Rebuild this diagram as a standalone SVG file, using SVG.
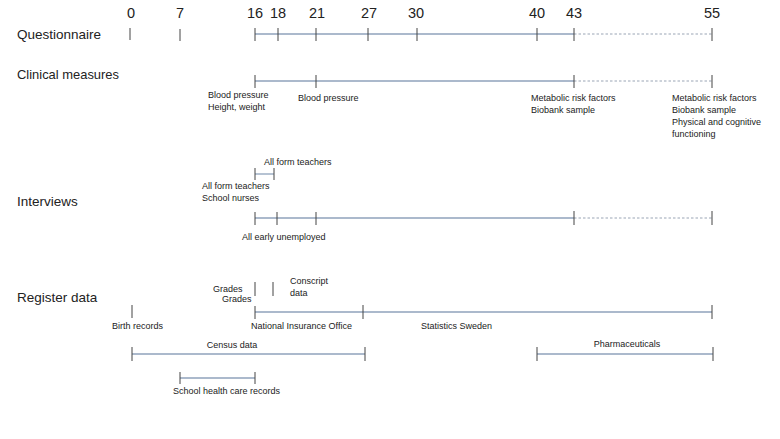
<svg xmlns="http://www.w3.org/2000/svg" width="780" height="439" viewBox="0 0 780 439">
<style>
.bg{fill:#ffffff}
.t{font-family:"Liberation Sans",Arial,sans-serif;fill:#222}
.num{font-size:14.5px}
.row{font-size:13.5px}
.s{font-size:9px}
.ln{stroke:#8fa2bb;stroke-width:1.3;fill:none}
.dash{stroke:#9aa5b5;stroke-width:1;stroke-dasharray:2.5 2;fill:none}
.tk{stroke:#444;stroke-width:1;fill:none}
</style>
<rect class="bg" x="0" y="0" width="780" height="439"/>
<g id="ages" class="t num" text-anchor="middle">
<text x="131" y="18">0</text>
<text x="180" y="18">7</text>
<text x="255" y="18">16</text>
<text x="278" y="18">18</text>
<text x="317" y="18">21</text>
<text x="369" y="18">27</text>
<text x="416" y="18">30</text>
<text x="537" y="18">40</text>
<text x="574" y="18">43</text>
<text x="712" y="18">55</text>
</g>
<g id="row-labels" class="t row">
<text x="17" y="39">Questionnaire</text>
<text x="17" y="79" textLength="102" lengthAdjust="spacingAndGlyphs">Clinical measures</text>
<text x="17" y="206">Interviews</text>
<text x="17" y="302">Register data</text>
</g>
<g id="connectors">
<line class="ln" x1="255" y1="34" x2="574" y2="34"/>
<line class="dash" x1="574" y1="34" x2="712" y2="34"/>
<line class="ln" x1="255" y1="81" x2="574" y2="81"/>
<line class="dash" x1="574" y1="81" x2="712" y2="81"/>
<line class="ln" x1="255" y1="174" x2="274" y2="174"/>
<line class="ln" x1="255" y1="218" x2="574" y2="218"/>
<line class="dash" x1="574" y1="218" x2="712" y2="218"/>
<line class="ln" x1="255" y1="312" x2="712" y2="312"/>
<line class="ln" x1="132" y1="354" x2="365" y2="354"/>
<line class="ln" x1="537" y1="354" x2="713" y2="354"/>
<line class="ln" x1="180" y1="378" x2="255" y2="378"/>
</g>
<g id="ticks">
<line class="tk" x1="130" y1="28" x2="130" y2="40"/>
<line class="tk" x1="180" y1="29" x2="180" y2="41"/>
<line class="tk" x1="255" y1="28" x2="255" y2="41"/>
<line class="tk" x1="278" y1="28" x2="278" y2="41"/>
<line class="tk" x1="316" y1="28" x2="316" y2="41"/>
<line class="tk" x1="368" y1="28" x2="368" y2="41"/>
<line class="tk" x1="417" y1="28" x2="417" y2="41"/>
<line class="tk" x1="537" y1="28" x2="537" y2="41"/>
<line class="tk" x1="574" y1="28" x2="574" y2="41"/>
<line class="tk" x1="712" y1="28" x2="712" y2="41"/>
<line class="tk" x1="255" y1="75" x2="255" y2="88"/>
<line class="tk" x1="316" y1="75" x2="316" y2="88"/>
<line class="tk" x1="574" y1="75" x2="574" y2="88"/>
<line class="tk" x1="712" y1="75" x2="712" y2="88"/>
<line class="tk" x1="255" y1="168" x2="255" y2="180"/>
<line class="tk" x1="274" y1="168" x2="274" y2="180"/>
<line class="tk" x1="255" y1="212" x2="255" y2="225"/>
<line class="tk" x1="277" y1="212" x2="277" y2="225"/>
<line class="tk" x1="316" y1="212" x2="316" y2="225"/>
<line class="tk" x1="574" y1="211" x2="574" y2="225"/>
<line class="tk" x1="712" y1="211" x2="712" y2="225"/>
<line class="tk" x1="255" y1="282" x2="255" y2="296"/>
<line class="tk" x1="273" y1="282" x2="273" y2="296"/>
<line class="tk" x1="132" y1="305" x2="132" y2="318"/>
<line class="tk" x1="255" y1="306" x2="255" y2="319"/>
<line class="tk" x1="363" y1="305" x2="363" y2="319"/>
<line class="tk" x1="712" y1="305" x2="712" y2="319"/>
<line class="tk" x1="132" y1="347" x2="132" y2="361"/>
<line class="tk" x1="365" y1="347" x2="365" y2="361"/>
<line class="tk" x1="537" y1="347" x2="537" y2="361"/>
<line class="tk" x1="713" y1="347" x2="713" y2="361"/>
<line class="tk" x1="180" y1="372" x2="180" y2="384"/>
<line class="tk" x1="255" y1="372" x2="255" y2="384"/>
</g>
<g id="clinical-labels" class="t s">
<text x="208" y="98">Blood pressure</text>
<text x="208" y="110">Height, weight</text>
<text x="298" y="101">Blood pressure</text>
<text x="531" y="101">Metabolic risk factors</text>
<text x="531" y="113">Biobank sample</text>
<text x="672" y="101">Metabolic risk factors</text>
<text x="672" y="113">Biobank sample</text>
<text x="672" y="125">Physical and cognitive</text>
<text x="672" y="137">functioning</text>
</g>
<g id="interview-labels" class="t s">
<text x="264" y="165">All form teachers</text>
<text x="202" y="189">All form teachers</text>
<text x="202" y="201">School nurses</text>
<text x="242" y="240">All early unemployed</text>
</g>
<g id="register-labels" class="t s">
<text x="213" y="292">Grades</text>
<text x="222" y="302">Grades</text>
<text x="290" y="284">Conscript</text>
<text x="290" y="296">data</text>
<text x="112" y="329">Birth records</text>
<text x="251" y="329">National Insurance Office</text>
<text x="421" y="329">Statistics Sweden</text>
<text x="232" y="348" text-anchor="middle">Census data</text>
<text x="627" y="347" text-anchor="middle">Pharmaceuticals</text>
<text x="173" y="394">School health care records</text>
</g>
</svg>
